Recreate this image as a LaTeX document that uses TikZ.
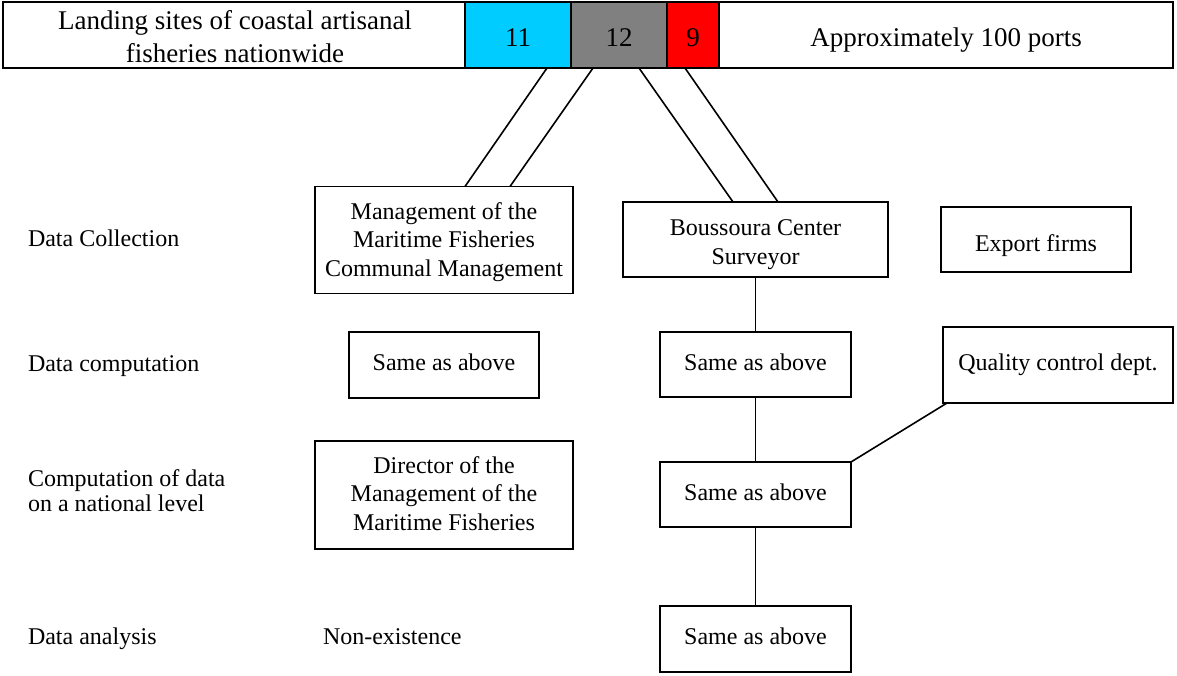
\documentclass[tikz,border=0pt]{standalone}
\usepackage{fontspec}
\setmainfont{Liberation Serif}
\usetikzlibrary{calc}
\definecolor{barcyan}{HTML}{00CCFF}
\definecolor{bargrey}{HTML}{808080}
\definecolor{barred}{HTML}{FF0000}
\tikzset{
  box/.style={draw, line width=1.8pt, inner sep=0pt, outer sep=0pt},
  barcell/.style={draw, line width=2.5pt, inner sep=0pt, outer sep=0pt, minimum height=66pt},
  txt/.style={inner sep=0pt, outer sep=0pt, align=center, font=\fontsize{24}{29}\selectfont},
  bartxt/.style={inner sep=0pt, outer sep=0pt, align=center, font=\fontsize{27}{33}\selectfont},
  lbl/.style={inner sep=0pt, outer sep=0pt, align=left, font=\fontsize{24}{25}\selectfont},
  conn/.style={line width=1.6pt}
}
\begin{document}
\begin{tikzpicture}[x=1pt, y=-1pt]
\useasboundingbox (0,0) rectangle (1177,675);
% top bar
\node[barcell, minimum width=462pt] (title) at (234,35) {};
\node[barcell, fill=barcyan, minimum width=106pt] (c11) at (518,35) {};
\node[barcell, fill=bargrey, minimum width=96pt] (c12) at (619,35) {};
\node[barcell, fill=barred, minimum width=52pt] (c9) at (693,35) {};
\node[barcell, minimum width=454pt] (ports) at (946,35) {};
\node[bartxt, anchor=north] (titleT) at (235,6) {\strut Landing sites of coastal artisanal\\fisheries nationwide};
\node[bartxt, anchor=base] (c11T) at (518,46) {11};
\node[bartxt, anchor=base] (c12T) at (619,46) {12};
\node[bartxt, anchor=base] (c9T) at (693,46) {9};
\node[bartxt, anchor=base] (portsT) at (946,46) {Approximately 100 ports};
% boxes
\node[box, minimum width=258pt, minimum height=107pt] (mgmt) at (444,240) {};
\node[box, minimum width=265pt, minimum height=75pt] (bous) at (755.5,239.5) {};
\node[box, minimum width=190pt, minimum height=65pt] (export) at (1036,239.5) {};
\node[box, minimum width=190pt, minimum height=66pt] (same1) at (444,365) {};
\node[box, minimum width=191pt, minimum height=65pt] (same2) at (755.5,364.5) {};
\node[box, minimum width=230pt, minimum height=76pt] (qc) at (1058,365) {};
\node[box, minimum width=258pt, minimum height=108pt] (dir) at (444,495) {};
\node[box, minimum width=191pt, minimum height=65pt] (same3) at (755.5,494.5) {};
\node[box, minimum width=191pt, minimum height=66pt] (same4) at (755.5,639) {};
% box texts
\node[txt, anchor=north, font=\fontsize{24}{28.5}\selectfont] (mgmtT) at (444,199.3) {\strut Management of the\\Maritime Fisheries\\Communal Management};
\node[txt, anchor=north] (bousT) at (755.5,214.7) {\strut Boussoura Center\\Surveyor};
\node[txt, anchor=base] (exportT) at (1036,251) {Export firms};
\node[txt, anchor=base] (same1T) at (444,370) {Same as above};
\node[txt, anchor=base] (same2T) at (755.5,370) {Same as above};
\node[txt, anchor=base] (qcT) at (1058,370.5) {Quality control dept.};
\node[txt, anchor=north, font=\fontsize{24}{28.7}\selectfont] (dirT) at (444,453.2) {\strut Director of the\\Management of the\\Maritime Fisheries};
\node[txt, anchor=base] (same3T) at (755.5,500) {Same as above};
\node[txt, anchor=base] (same4T) at (755.5,644) {Same as above};
% left labels
\node[lbl, anchor=base west] (lcol) at (28,246.5) {Data Collection};
\node[lbl, anchor=base west] (lcomp) at (28,371.5) {Data computation};
\node[lbl, anchor=north west] (lnat) at (28,468.5) {\strut Computation of data\\on a national level};
\node[lbl, anchor=base west] (lana) at (28,644) {Data analysis};
\node[lbl, anchor=base west] (nonex) at (323,644) {Non-existence};
% connector end points
\coordinate (a1) at ($(c11.south west)+(82,0)$);
\coordinate (a2) at ($(c12.south west)+(22,0)$);
\coordinate (a3) at ($(c12.south west)+(68,0)$);
\coordinate (a4) at ($(c9.south west)+(18,0)$);
\coordinate (b1) at ($(mgmt.north west)+(150,0)$);
\coordinate (b2) at ($(mgmt.north west)+(195,0)$);
\coordinate (b3) at ($(bous.north west)+(110,0)$);
\coordinate (b4) at ($(bous.north west)+(155,0)$);
\coordinate (q1) at ($(qc.south west)+(4,0)$);
% connectors
\draw[conn] (a1) -- (b1);
\draw[conn] (a2) -- (b2);
\draw[conn] (a3) -- (b3);
\draw[conn] (a4) -- (b4);
\draw[conn] (bous.south) -- (same2.north);
\draw[conn] (same2.south) -- (same3.north);
\draw[conn] (same3.south) -- (same4.north);
\draw[conn] (same3.north east) -- (q1);
\end{tikzpicture}
\end{document}
